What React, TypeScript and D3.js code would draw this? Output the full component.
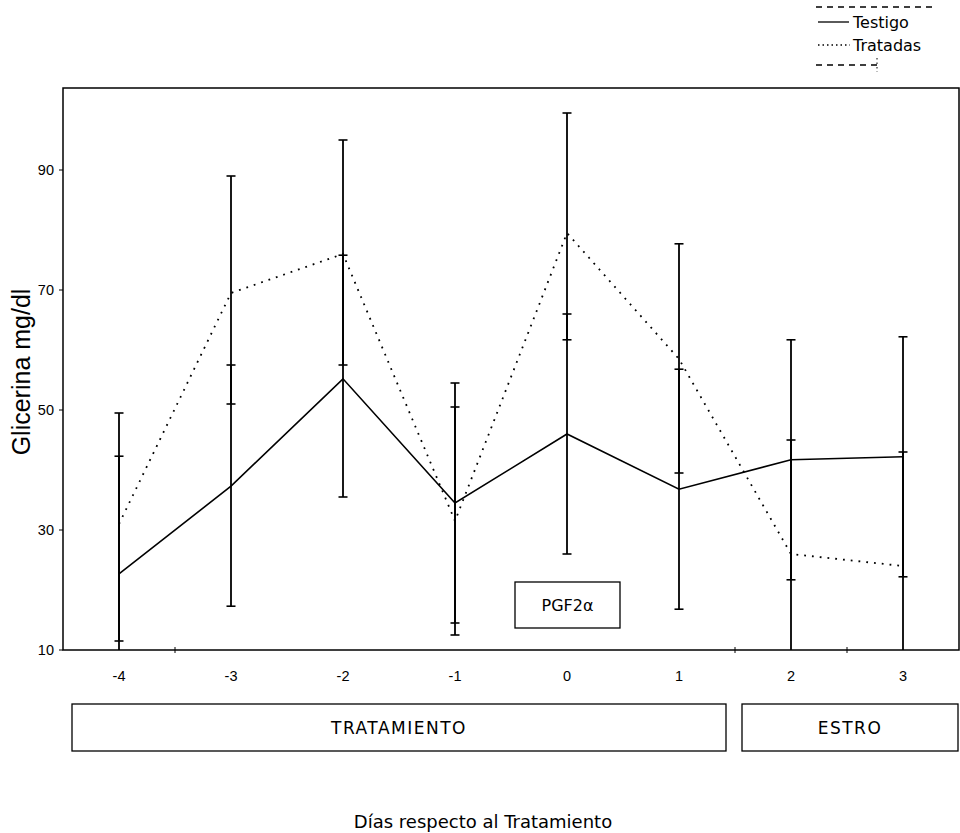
import React from 'react';
import * as d3 from 'd3';

// Days relative to treatment
const days = [-4, -3, -2, -1, 0, 1, 2, 3];

// Testigo (control) mean and error bar ends
const testigoMean = [22.7, 37.3, 55.2, 34.5, 46, 36.8, 41.7, 42.2];
const testigoHigh = [42.3, 57.5, 75.8, 50.5, 66, 56.8, 61.7, 62.2];
const testigoLow = [3, 17.3, 35.5, 14.5, 26, 16.8, 21.7, 22.2];

// Tratadas (treated) mean and error bar ends
const tratadasMean = [31, 69.5, 76, 31.5, 79.5, 58.5, 26, 24];
const tratadasHigh = [49.5, 89, 95, 54.5, 99.5, 77.7, 45, 43];
const tratadasLow = [11.5, 51, 57.5, 12.5, 61.7, 39.5, 7, 5];

const yTicks = [10, 30, 50, 70, 90];
const minorX = [-3.5, 1.5, 2.5];

const comic = '"DejaVu Sans", sans-serif';
const arial = '"Liberation Sans", Arial, sans-serif';

export default function App() {
  const W = 960;
  const H = 833;
  const left = 63;
  const right = 959;
  const top = 88;
  const bottom = 650;

  const x = d3.scaleLinear().domain([-4.5, 3.5]).range([left, right]);
  const y = d3.scaleLinear().domain([10, 10 + (bottom - top) / 6]).range([bottom, top]);

  const line = d3
    .line<number>()
    .x((d, i) => x(days[i]))
    .y((d) => y(d));

  const cap = 4.5;
  const bars = (hi: number[], lo: number[], key: string) =>
    days.map((d, i) => (
      <g key={key + i}>
        <line x1={x(d)} x2={x(d)} y1={y(hi[i])} y2={y(lo[i])} stroke="#000" strokeWidth={1.8} />
        <line x1={x(d) - cap} x2={x(d) + cap} y1={y(hi[i])} y2={y(hi[i])} stroke="#000" strokeWidth={1.6} />
        <line x1={x(d) - cap} x2={x(d) + cap} y1={y(lo[i])} y2={y(lo[i])} stroke="#000" strokeWidth={1.6} />
      </g>
    ));

  return (
    <svg width={W} height={H} style={{ position: 'absolute', left: 0, top: 0, background: '#fff' }}>
      <defs>
        <clipPath id="plot">
          <rect x={left} y={top} width={right - left} height={bottom - top} />
        </clipPath>
      </defs>

      {/* legend */}
      <line x1={816} x2={936} y1={7} y2={7} stroke="#000" strokeWidth={1.5} strokeDasharray="6 5" />
      <line x1={818} x2={849} y1={22} y2={22} stroke="#000" strokeWidth={1.3} />
      <text x={853} y={28} fontFamily={comic} fontSize={16} fill="#000">Testigo</text>
      <line x1={818} x2={850} y1={45} y2={45} stroke="#000" strokeWidth={1.3} strokeDasharray="1.5 3" />
      <text x={853} y={51} fontFamily={comic} fontSize={16} fill="#000">Tratadas</text>
      <line x1={816} x2={877} y1={65} y2={65} stroke="#000" strokeWidth={1.5} strokeDasharray="6 5" />
      <line x1={877} x2={877} y1={58} y2={72} stroke="#000" strokeWidth={1} strokeDasharray="1.5 3" />

      {/* frame */}
      <rect x={left} y={top} width={right - left} height={bottom - top} fill="none" stroke="#000" strokeWidth={1.5} />

      {/* y axis ticks */}
      {yTicks.map((t) => (
        <g key={'y' + t}>
          <line x1={left - 4} x2={left} y1={y(t)} y2={y(t)} stroke="#000" strokeWidth={1} />
          <text x={left - 9} y={y(t) + 5} textAnchor="end" fontFamily={arial} fontSize={14.5} fill="#000">
            {t}
          </text>
        </g>
      ))}

      {/* x axis ticks */}
      {days.map((d) => (
        <text key={'x' + d} x={x(d)} y={681} textAnchor="middle" fontFamily={arial} fontSize={14.5} fill="#000">
          {d}
        </text>
      ))}
      {minorX.map((d) => (
        <line key={'m' + d} x1={x(d)} x2={x(d)} y1={bottom - 3} y2={bottom + 3} stroke="#000" strokeWidth={1} />
      ))}

      <g clipPath="url(#plot)">
        {bars(tratadasHigh, tratadasLow, 'tr')}
        {bars(testigoHigh, testigoLow, 'te')}
        <path d={line(testigoMean) || ''} fill="none" stroke="#000" strokeWidth={1.6} />
        <path d={line(tratadasMean) || ''} fill="none" stroke="#000" strokeWidth={1.8} strokeDasharray="1.8 6" />
      </g>

      {/* PGF2α marker */}
      <rect x={515} y={582} width={105} height={46} fill="#fff" stroke="#000" strokeWidth={1.3} />
      <text x={567.5} y={611} textAnchor="middle" fontFamily={comic} fontSize={16} fill="#000">PGF2α</text>

      {/* phase boxes */}
      <rect x={72} y={704} width={654} height={47} fill="none" stroke="#000" strokeWidth={1.3} />
      <text x={399} y={734} textAnchor="middle" fontFamily={comic} fontSize={17} letterSpacing={1.5} fill="#000">
        TRATAMIENTO
      </text>
      <rect x={742} y={704} width={216} height={47} fill="none" stroke="#000" strokeWidth={1.3} />
      <text x={850} y={734} textAnchor="middle" fontFamily={comic} fontSize={17} letterSpacing={1.5} fill="#000">
        ESTRO
      </text>

      {/* axis titles */}
      <text
        transform={`translate(30,372) rotate(-90)`}
        textAnchor="middle"
        fontFamily={arial}
        fontSize={25}
        fill="#000"
      >
        Glicerina mg/dl
      </text>
      <text x={483} y={828} textAnchor="middle" fontFamily={comic} fontSize={18} fill="#000">
        Días respecto al Tratamiento
      </text>
    </svg>
  );
}
